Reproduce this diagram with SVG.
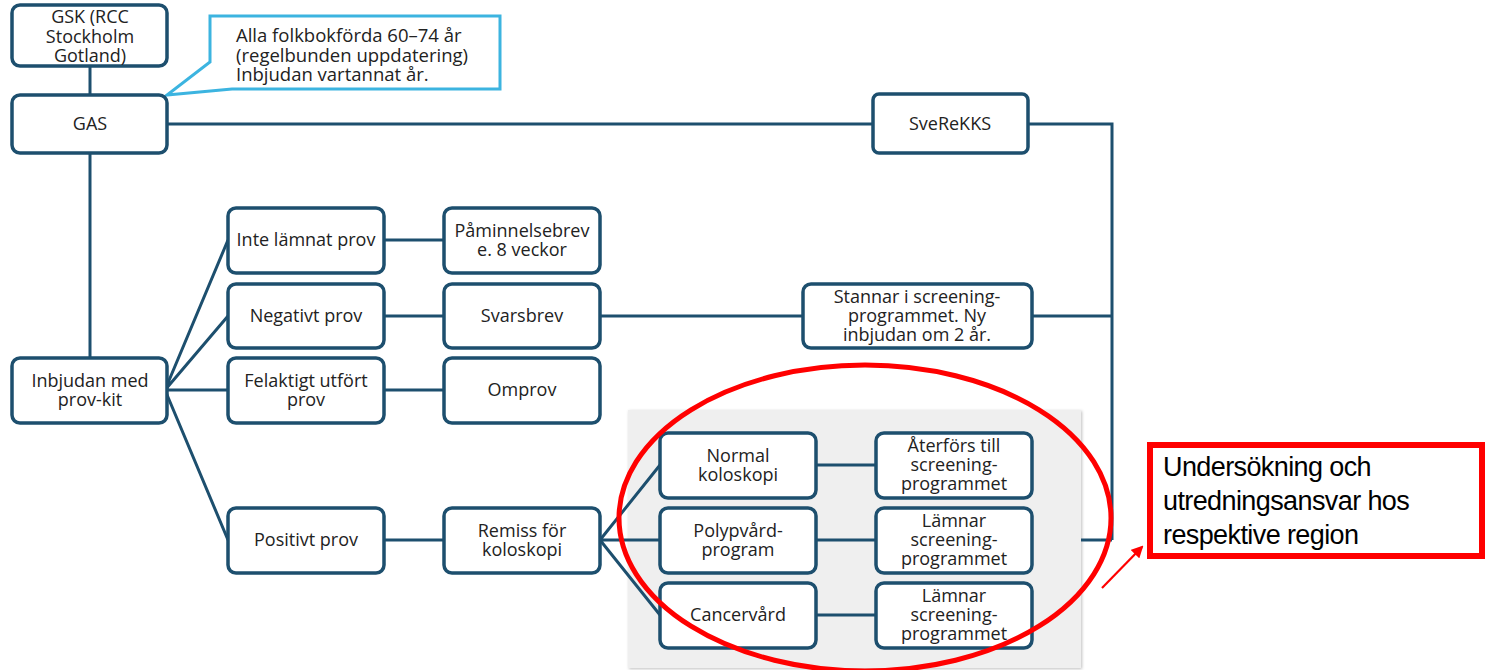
<svg xmlns="http://www.w3.org/2000/svg" width="1485" height="670" viewBox="0 0 1485 670">
<defs>
<style>
.box{fill:#fff;stroke:#1d4f6e;stroke-width:3.5}
.ln{fill:none;stroke:#1d4f6e;stroke-width:3}
.t{font-family:"Open Sans","Noto Sans",sans-serif;font-size:18px;fill:#222;text-anchor:middle}
.tl{font-family:"Open Sans","Noto Sans",sans-serif;font-size:18.5px;fill:#222}
.red{font-family:"Liberation Sans",Arial,sans-serif;font-size:27px;fill:#000;letter-spacing:-0.6px}
</style>
<marker id="ah" markerWidth="12" markerHeight="12" refX="10" refY="6" orient="auto" markerUnits="userSpaceOnUse">
<path d="M0,0 L12,6 L0,12 z" fill="#f00"/>
</marker>
<filter id="sh" x="-5%" y="-5%" width="110%" height="110%"><feDropShadow dx="1" dy="1" stdDeviation="1.5" flood-color="#000" flood-opacity="0.25"/></filter>
</defs>
<rect width="1485" height="670" fill="#fff"/>
<rect id="grayarea" x="628" y="410" width="453" height="258" fill="#efefef" filter="url(#sh)"/>
<g id="connectors">
<path class="ln" d="M90,66 V95"/>
<path class="ln" d="M167,124 H873"/>
<path class="ln" d="M1028,124 H1112 V540"/>
<path class="ln" d="M1032,316 H1112"/>
<path class="ln" d="M1081,540 H1112"/>
<path class="ln" d="M90,153 V358"/>
<path class="ln" d="M165,390 L228,240 M165,390 L228,316 M165,390 H228 M165,390 L228,540"/>
<path class="ln" d="M384,240 H444 M384,316 H444 M384,390 H444 M384,540 H444"/>
<path class="ln" d="M600,316 H803"/>
<path class="ln" d="M600,540 L660,465 M600,540 H660 M600,540 L660,615"/>
<path class="ln" d="M816,465 H876 M816,540 H876 M816,615 H876"/>
</g>
<g id="gsk"><rect class="box" x="12" y="5" width="155" height="61" rx="8"/>
<text class="t" x="90" y="23">GSK (RCC</text><text class="t" x="90" y="43">Stockholm</text><text class="t" x="90" y="62">Gotland)</text></g>
<g id="callout"><path d="M210,16 H500 V89 H232 L167,95 L210,62 Z" fill="#fff" stroke="#3cb4e0" stroke-width="3" stroke-linejoin="miter"/>
<text class="tl" x="236" y="42">Alla folkbokförda 60–74 år</text><text class="tl" x="236" y="62">(regelbunden uppdatering)</text><text class="tl" x="236" y="81">Inbjudan vartannat år.</text></g>
<g id="gas"><rect class="box" x="12" y="95" width="155" height="58" rx="8"/><text class="t" x="90" y="130">GAS</text></g>
<g id="sverekks"><rect class="box" x="873" y="94" width="155" height="59" rx="6"/><text class="t" x="950" y="130">SveReKKS</text></g>
<g id="inbjudan"><rect class="box" x="12" y="358" width="155" height="65" rx="8"/><text class="t" x="90" y="387">Inbjudan med</text><text class="t" x="90" y="406">prov-kit</text></g>
<g id="inte"><rect class="box" x="228" y="208" width="156" height="65" rx="8"/><text class="t" x="306" y="246">Inte lämnat prov</text></g>
<g id="paminn"><rect class="box" x="444" y="208" width="156" height="65" rx="8"/><text class="t" x="522" y="237">Påminnelsebrev</text><text class="t" x="522" y="256">e. 8 veckor</text></g>
<g id="negativt"><rect class="box" x="228" y="284" width="156" height="64" rx="8"/><text class="t" x="306" y="322">Negativt prov</text></g>
<g id="svarsbrev"><rect class="box" x="444" y="284" width="156" height="64" rx="8"/><text class="t" x="522" y="322">Svarsbrev</text></g>
<g id="stannar"><rect class="box" x="803" y="284" width="229" height="64" rx="8"/><text class="t" x="917" y="303">Stannar i screening-</text><text class="t" x="917" y="322">programmet. Ny</text><text class="t" x="917" y="341">inbjudan om 2 år.</text></g>
<g id="felaktigt"><rect class="box" x="228" y="358" width="156" height="65" rx="8"/><text class="t" x="306" y="387">Felaktigt utfört</text><text class="t" x="306" y="406">prov</text></g>
<g id="omprov"><rect class="box" x="444" y="358" width="156" height="65" rx="8"/><text class="t" x="522" y="396">Omprov</text></g>
<g id="positivt"><rect class="box" x="228" y="508" width="156" height="65" rx="8"/><text class="t" x="306" y="546">Positivt prov</text></g>
<g id="remiss"><rect class="box" x="444" y="508" width="156" height="65" rx="8"/><text class="t" x="522" y="537">Remiss för</text><text class="t" x="522" y="556">koloskopi</text></g>
<g id="normal"><rect class="box" x="660" y="433" width="156" height="65" rx="8"/><text class="t" x="738" y="462">Normal</text><text class="t" x="738" y="481">koloskopi</text></g>
<g id="polyp"><rect class="box" x="660" y="508" width="156" height="65" rx="8"/><text class="t" x="738" y="537">Polypvård-</text><text class="t" x="738" y="556">program</text></g>
<g id="cancer"><rect class="box" x="660" y="583" width="156" height="65" rx="8"/><text class="t" x="738" y="621">Cancervård</text></g>
<g id="aterfors"><rect class="box" x="876" y="433" width="156" height="65" rx="8"/><text class="t" x="954" y="452">Återförs till</text><text class="t" x="954" y="471">screening-</text><text class="t" x="954" y="490">programmet</text></g>
<g id="lamnar1"><rect class="box" x="876" y="508" width="156" height="65" rx="8"/><text class="t" x="954" y="527">Lämnar</text><text class="t" x="954" y="546">screening-</text><text class="t" x="954" y="565">programmet</text></g>
<g id="lamnar2"><rect class="box" x="876" y="583" width="156" height="65" rx="8"/><text class="t" x="954" y="602">Lämnar</text><text class="t" x="954" y="621">screening-</text><text class="t" x="954" y="640">programmet</text></g>
<g id="highlight">
<ellipse cx="865" cy="518" rx="246" ry="153" fill="none" stroke="#f00" stroke-width="5"/>
<path d="M1102,588 L1142,547" fill="none" stroke="#f00" stroke-width="2.2" marker-end="url(#ah)"/>
</g>
<g id="note"><rect x="1150" y="445" width="332" height="111" fill="#fff" stroke="#f00" stroke-width="6"/>
<text class="red" x="1163" y="476">Undersökning och</text><text class="red" x="1163" y="510">utredningsansvar hos</text><text class="red" x="1163" y="544">respektive region</text></g>
</svg>
